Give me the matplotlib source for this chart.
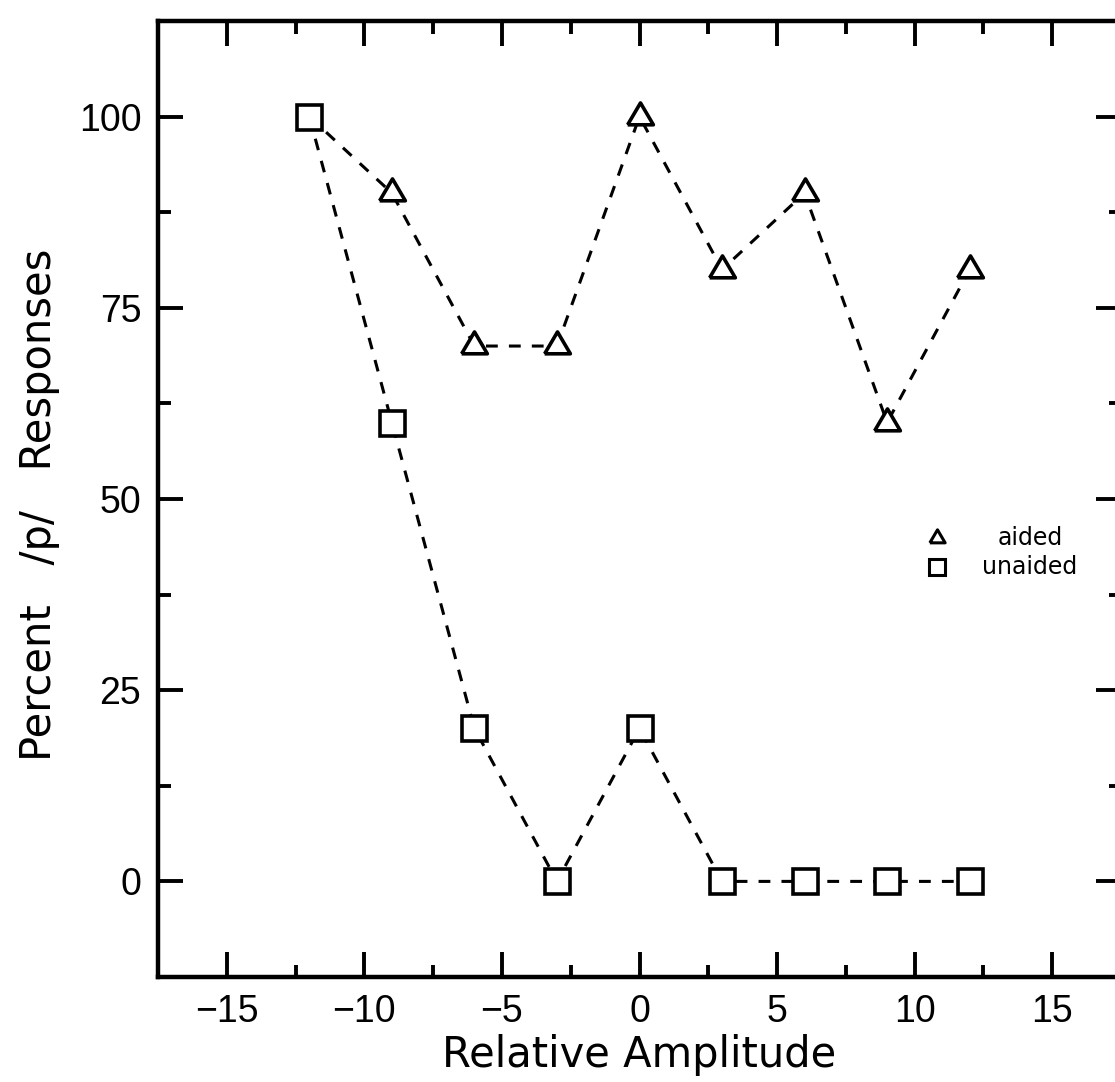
import matplotlib
matplotlib.use("Agg")
import matplotlib.pyplot as plt
from matplotlib.ticker import MultipleLocator

# Percent /p/ responses against relative amplitude
amplitude = [-12, -9, -6, -3, 0, 3, 6, 9, 12]
aided = [100, 90, 70, 70, 100, 80, 90, 60, 80]
unaided = [100, 60, 20, 0, 20, 0, 0, 0, 0]

x_ticks = [-15, -10, -5, 0, 5, 10, 15]
y_ticks = [0, 25, 50, 75, 100]
series_names = ["aided", "unaided"]

plt.rcParams["font.family"] = ["DejaVu Sans"]
plt.rcParams["lines.scale_dashes"] = False

fig = plt.figure(figsize=(11.15, 10.82), dpi=100)
ax = fig.add_axes([158 / 1115, 1 - 977 / 1082, 963 / 1115, 956 / 1082])

# open triangle with its centroid on the data point
tri = [(-1.0, -0.567), (1.0, -0.567), (0.0, 1.133), (-1.0, -0.567)]

dash = (8.5, 8.0)
line_kw = dict(color="black", lw=2.2, dashes=dash, markerfacecolor="white",
               markeredgecolor="black", markeredgewidth=2.6)

# the first aided point sits under the unaided square at the same spot
ax.plot(amplitude, aided, marker=tri, ms=21, markevery=list(range(1, len(aided))),
        zorder=2, **line_kw)
ax.plot(amplitude, unaided, marker="s", ms=18, zorder=3, **line_kw)

ax.set_xlim(-17.5, 17.5)
ax.set_ylim(-12.5, 112.5)
ax.set_xticks(x_ticks)
ax.set_yticks(y_ticks)
ax.xaxis.set_minor_locator(MultipleLocator(2.5))
ax.yaxis.set_minor_locator(MultipleLocator(12.5))

for s in ax.spines.values():
    s.set_linewidth(3.2)

ax.tick_params(which="both", direction="in", top=True, right=True,
               width=2.8, color="black")
ax.tick_params(which="major", length=18)
ax.tick_params(which="minor", length=9)
ax.tick_params(axis="both", pad=12)
for lab in ax.get_xticklabels() + ax.get_yticklabels():
    lab.set_fontfamily(["Liberation Sans", "DejaVu Sans"])
    lab.set_fontsize(27)

ax.set_xlabel("Relative Amplitude", fontsize=30)
ax.set_ylabel("Percent   /p/   Responses", fontsize=30)
ax.xaxis.set_label_coords(0.5, -0.060)
ax.yaxis.set_label_coords(-0.102, 0.494)

# key: marker symbols with centred names
key_x, text_x = 0.809, 0.9055
key_y = [0.459, 0.429]
key_markers = [(tri, 12.5), ("s", 11.5)]
for (mk, size), yy, name in zip(key_markers, key_y, series_names):
    ax.plot([key_x], [yy], transform=ax.transAxes, ls="none", marker=mk, ms=size,
            markerfacecolor="white", markeredgecolor="black", markeredgewidth=2.2,
            clip_on=False)
    ax.text(text_x, yy, name, transform=ax.transAxes, ha="center", va="center",
            fontsize=17)

fig.savefig("out.png", dpi=100)
